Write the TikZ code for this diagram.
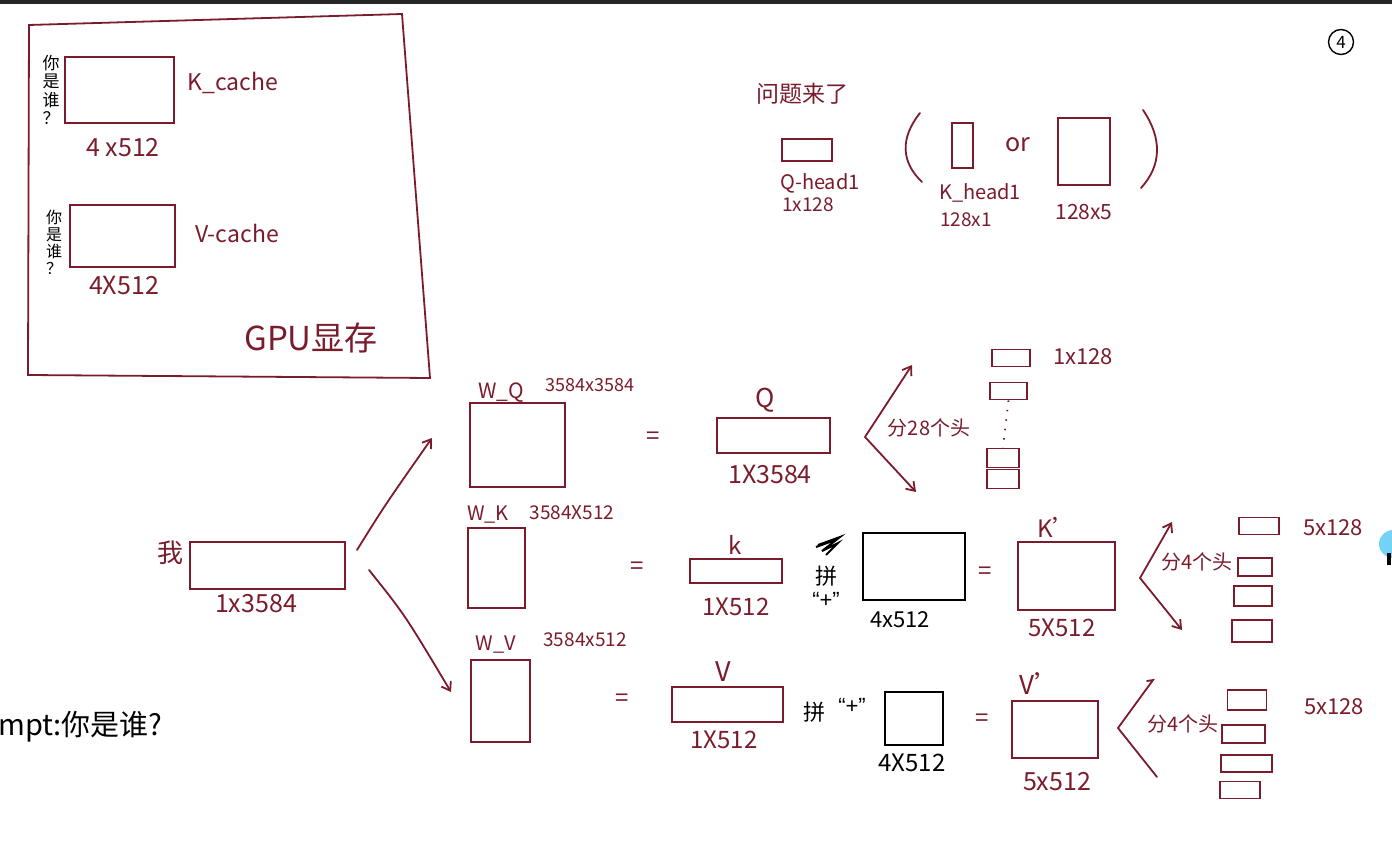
\documentclass[tikz,border=0pt]{standalone}
\usepackage{fontspec}
\setmainfont{Noto Sans CJK SC}
\newfontfamily\latinfont{Liberation Sans}
\usetikzlibrary{arrows.meta}
\definecolor{ink}{RGB}{122,28,44}
\newcommand{\myfs}[1]{\fontsize{#1}{#1}\selectfont}
\newcommand{\vfs}[2]{\fontsize{#1}{#2}\selectfont}
\tikzset{
  mbox/.style={draw=ink, line width=2pt, rectangle, inner sep=0pt},
  kbox/.style={draw=black, line width=2pt, rectangle, inner sep=0pt},
  sbox/.style={draw=ink, line width=1.8pt, rectangle, inner sep=0pt},
  lab/.style={text=ink, inner sep=0pt},
  blab/.style={text=black, inner sep=0pt},
  conn/.style={draw=ink, line width=1.8pt, line cap=round},
  arr/.style={conn, -{Straight Barb[length=8pt,width=11pt]}},
}
\begin{document}
\begin{tikzpicture}[x=1pt,y=-1pt]
\useasboundingbox (0,0) rectangle (1392,858);
\fill[white] (0,0) rectangle (1392,858);
\fill[black!85] (0,0) rectangle (1392,4);

% ---------- GPU memory box ----------
\coordinate (g1) at (29,25);
\coordinate (g2) at (402,14);
\coordinate (g3) at (430,378);
\coordinate (g4) at (28,375);
\draw[conn] (g1) -- (g2) -- (g3) -- (g4) -- cycle;

\node[mbox, minimum width=109pt, minimum height=66pt] (kc) at (119.5,90) {};
\node[blab, align=center, font=\vfs{17}{18.5}] (kcq) at (51,90) {你\\是\\谁\\？};
\node[lab, font=\myfs{23}] (kcl) at (233,83) {K\_cache};
\node[lab, font=\myfs{25}] (kcs) at (123,148) {4 x512};

\node[mbox, minimum width=105pt, minimum height=62pt] (vc) at (122.5,236) {};
\node[blab, align=center, font=\vfs{16}{17}] (vcq) at (54,242) {你\\是\\谁\\？};
\node[lab, font=\myfs{23}] (vcl) at (237,233) {V-cache};
\node[lab, font=\myfs{25}] (vcs) at (124,286) {4X512};

\node[lab, font=\myfs{33}] (gpu) at (311,338) {GPU显存};

% ---------- top right question ----------
\node[lab, font=\myfs{23}] (wt) at (802,94) {问题来了};
\node[mbox, minimum width=50pt, minimum height=22pt] (qh) at (807,150) {};
\node[lab, font=\myfs{20}] (qhl) at (820,183) {Q-head1};
\node[lab, font=\myfs{19}] (qhs) at (808,205) {1x128};
\coordinate (lp1) at (920,113);
\coordinate (lp2) at (922,182);
\draw[conn] (lp1) .. controls (900,138) and (901,162) .. (lp2);
\node[mbox, minimum width=21pt, minimum height=45pt] (kh) at (962.5,145.5) {};
\node[lab, font=\myfs{25}] (or) at (1018,145) {or};
\node[mbox, minimum width=52pt, minimum height=67pt] (kh5) at (1084,151.5) {};
\node[lab, font=\myfs{20}] (khl) at (980,193) {K\_head1};
\node[lab, font=\myfs{19}] (khs) at (966,220) {128x1};
\node[lab, font=\myfs{21}] (kh5s) at (1084,212) {128x5};
\coordinate (rp1) at (1143,110);
\coordinate (rp2) at (1141,188);
\draw[conn] (rp1) .. controls (1162,138) and (1162,165) .. (rp2);

\node[draw=black, circle, line width=1.4pt, minimum size=25pt, inner sep=0pt, font=\myfs{17}] (pg) at (1341,42) {4};

% ---------- input token ----------
\node[lab, font=\myfs{26}] (wo) at (170,553) {我};
\node[mbox, minimum width=155pt, minimum height=47pt] (x) at (267.5,565.5) {};
\node[lab, font=\myfs{25}] (xs) at (256,604) {1x3584};
\coordinate (xa) at (357,550);
\coordinate (xb) at (369,570);
\coordinate (wqa) at (432,438);
\coordinate (wva) at (451,692);
\draw[arr] (xa) .. controls (385,505) .. (wqa);
\draw[arr] (xb) .. controls (405,615) .. (wva);

% ---------- Q row ----------
\node[lab, font=\myfs{21}] (wql) at (501,393) {W\_Q};
\node[lab, font=\myfs{18}] (wqs) at (590,385) {3584x3584};
\node[mbox, minimum width=95pt, minimum height=84pt] (wq) at (517.5,445) {};
\node[lab, font=\myfs{24}] (eq1) at (653,438) {=};
\node[lab, font=\myfs{26}] (ql) at (765,400) {Q};
\node[mbox, minimum width=113pt, minimum height=35pt] (q) at (773.5,435) {};
\node[lab, font=\myfs{25}] (qs) at (770,474) {1X3584};
\coordinate (qv) at (865,437);
\coordinate (qu) at (912,365);
\coordinate (qd) at (916,492);
\draw[arr] (qv) -- (qu);
\draw[arr] (qv) -- (qd);
\node[lab, font=\myfs{20}] (qsplit) at (929,428) {分28个头};
\node[sbox, minimum width=38pt, minimum height=17pt] (q1) at (1011,358) {};
\node[sbox, minimum width=37pt, minimum height=17pt] (q2) at (1008.5,391) {};
\node[sbox, minimum width=32pt, minimum height=19pt] (q3) at (1003,458) {};
\node[sbox, minimum width=32pt, minimum height=19pt] (q4) at (1003,479) {};
\draw[ink, line width=1.8pt, dash pattern=on 1.5pt off 8pt] (q2.south) -- (q3.north);
\node[lab, font=\myfs{22}] (qhs2) at (1083,357) {1x128};

% ---------- K row ----------
\node[lab, font=\myfs{20}] (wkl) at (488,515) {W\_K};
\node[lab, font=\myfs{19}] (wks) at (572,513) {3584X512};
\node[mbox, minimum width=57pt, minimum height=80pt] (wk) at (496.5,568) {};
\node[lab, font=\myfs{24}] (eq2) at (637,568) {=};
\node[lab, font=\myfs{24}] (kl) at (735,545) {k};
\node[mbox, minimum width=92pt, minimum height=24pt] (k) at (736,571) {};
\node[lab, font=\myfs{24}] (ks) at (736,607) {1X512};
\coordinate (sc) at (828,545);
\draw[black, line width=2pt] ([shift={(-12,2)}]sc) -- ([shift={(10,-6)}]sc) -- ([shift={(-10,0)}]sc) -- ([shift={(12,-8)}]sc) -- ([shift={(-6,6)}]sc) -- ([shift={(10,-2)}]sc) -- ([shift={(-2,10)}]sc);
\node[blab, font=\myfs{22}] (kpin) at (826,576) {拼};
\node[blab, font=\latinfont\myfs{22}] (kplus) at (826,600) {“+”};
\node[kbox, minimum width=102pt, minimum height=67pt] (kcache) at (914,566.5) {};
\node[blab, font=\myfs{22}] (kcs2) at (900,620) {4x512};
\node[lab, font=\myfs{24}] (eq3) at (985,573) {=};
\node[lab, font=\myfs{24}] (kpl) at (1057,527) {K’};
\node[mbox, minimum width=97pt, minimum height=68pt] (kp) at (1066.5,576) {};
\node[lab, font=\myfs{24}] (kps) at (1062,628) {5X512};
\coordinate (kv) at (1140,578);
\coordinate (ku) at (1172,522);
\coordinate (kd) at (1182,630);
\draw[arr] (kv) -- (ku);
\draw[arr] (kv) -- (kd);
\node[lab, font=\myfs{20}] (ksplit) at (1197,562) {分4个头};
\node[sbox, minimum width=40pt, minimum height=17pt] (k1) at (1259,526) {};
\node[sbox, minimum width=34pt, minimum height=18pt] (k2) at (1255,567) {};
\node[sbox, minimum width=38pt, minimum height=20pt] (k3) at (1253,596) {};
\node[sbox, minimum width=40pt, minimum height=22pt] (k4) at (1252,631) {};
\node[lab, font=\myfs{22}] (khs3) at (1333,528) {5x128};

% ---------- V row ----------
\node[lab, font=\myfs{20}] (wvl) at (496,645) {W\_V};
\node[lab, font=\myfs{19}] (wvs) at (585,640) {3584x512};
\node[mbox, minimum width=59pt, minimum height=82pt] (wv) at (500.5,701) {};
\node[lab, font=\myfs{24}] (eq4) at (622,700) {=};
\node[lab, font=\myfs{27}] (vl) at (723,672) {V};
\node[mbox, minimum width=111pt, minimum height=35pt] (v) at (727.5,704.5) {};
\node[lab, font=\myfs{24}] (vs) at (724,740) {1X512};
\node[blab, font=\myfs{22}] (vpin) at (814,712) {拼};
\node[blab, font=\latinfont\myfs{22}] (vplus) at (852,706) {“+”};
\node[kbox, minimum width=58pt, minimum height=53pt] (vcache) at (914,718.5) {};
\node[blab, font=\myfs{24}] (vcs2) at (912,763) {4X512};
\node[lab, font=\myfs{24}] (eq5) at (982,720) {=};
\node[lab, font=\myfs{26}] (vpl) at (1040,684) {V’};
\node[mbox, minimum width=86pt, minimum height=57pt] (vp) at (1054.5,729) {};
\node[lab, font=\myfs{25}] (vps) at (1057,782) {5x512};
\coordinate (vv) at (1118,728);
\coordinate (vu) at (1153,680);
\coordinate (vd) at (1157,777);
\draw[conn] (vv) -- (vu) -- ++(-6,1);
\draw[conn] (vv) -- (vd);
\node[lab, font=\myfs{20}] (vsplit) at (1183,724) {分4个头};
\node[sbox, minimum width=39pt, minimum height=20pt] (v1) at (1247,700) {};
\node[sbox, minimum width=43pt, minimum height=18pt] (v2) at (1243.5,734) {};
\node[sbox, minimum width=51pt, minimum height=17pt] (v3) at (1246.5,763.5) {};
\node[sbox, minimum width=40pt, minimum height=17pt] (v4) at (1240,790) {};
\node[lab, font=\myfs{22}] (vhs3) at (1334,707) {5x128};

% ---------- prompt ----------
\node[blab, font=\myfs{29}, anchor=west] (prompt) at (-2,727) {mpt:你是谁?};

% cursor mark
\fill[cyan!55!white] (1393,544) circle (14);
\fill[black] (1387,553) rectangle (1391,565);
\end{tikzpicture}
\end{document}
